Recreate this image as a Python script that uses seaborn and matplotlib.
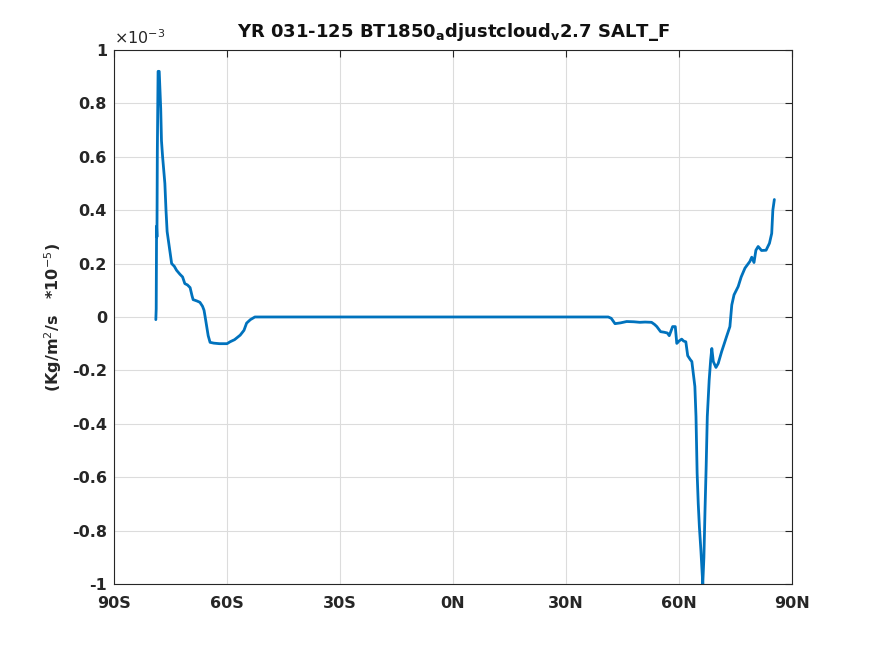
import numpy as np
import pandas as pd
import matplotlib
matplotlib.use("Agg")
import matplotlib.pyplot as plt
import seaborn as sns

# === Data (values in units of 1e-3) ===
lat = [-78.9, -78.8, -78.7, -78.6, -78.5, -78.3, -78.0, -77.8, -77.6, -77.4, -77.1,
       -76.8, -76.5, -76.2, -75.9, -75.5, -74.7, -74.0, -73.4, -72.5, -71.8, -71.2,
       -70.5, -69.8, -69.3, -69.0, -68.0, -67.2, -66.5, -66.1, -65.8, -65.4, -65.0,
       -64.5, -63.5, -62.0, -61.0, -60.0, -59.2, -58.0, -56.5, -55.5, -54.8, -53.8,
       -52.6, 41.2, 42.0, 43.0, 44.5, 46.1, 48.0, 49.6, 51.0, 52.7, 53.5, 54.1, 55.1,
       56.0, 56.9, 57.4, 57.8, 58.3, 59.0, 59.4, 60.0, 60.7, 61.2, 61.8, 62.3, 63.0,
       63.4, 64.2, 64.5, 64.8, 65.1, 65.4, 65.8, 66.1, 66.3, 66.6, 66.9, 67.2, 67.5,
       68.0, 68.4, 68.7, 69.1, 69.8, 70.4, 71.3, 72.0, 72.6, 73.5, 74.0, 74.6, 75.7,
       76.5, 77.5, 78.8, 79.3, 79.9, 80.4, 81.0, 81.9, 83.1, 84.0, 84.6, 84.9, 85.3]
val = [-0.01, 0.03, 0.34, 0.30, 0.62, 0.92, 0.92, 0.85, 0.78, 0.66, 0.60,
       0.55, 0.50, 0.40, 0.32, 0.28, 0.20, 0.19, 0.175, 0.16, 0.15, 0.125,
       0.12, 0.11, 0.08, 0.065, 0.06, 0.055, 0.04, 0.025, 0.0, -0.035, -0.07,
       -0.095, -0.098, -0.10, -0.10, -0.10, -0.093, -0.085, -0.068, -0.05, -0.023, -0.01,
       0.0, 0.0, -0.005, -0.025, -0.022, -0.017, -0.018, -0.02, -0.019, -0.02, -0.028, -0.036, -0.055,
       -0.057, -0.06, -0.07, -0.055, -0.036, -0.036, -0.099, -0.09, -0.083, -0.09, -0.093, -0.145, -0.16,
       -0.167, -0.26, -0.373, -0.585, -0.70, -0.786, -0.873, -0.95, -1.0, -0.90, -0.72, -0.56, -0.373,
       -0.236, -0.16, -0.118, -0.167, -0.189, -0.174, -0.13, -0.10, -0.074, -0.036, 0.045, 0.083, 0.114,
       0.15, 0.183, 0.208, 0.224, 0.204, 0.25, 0.264, 0.249, 0.25, 0.276, 0.313, 0.40, 0.44]

xtick_vals = [-90, -60, -30, 0, 30, 60, 90]
xtick_labels = ["90S", "60S", "30S", "0N", "30N", "60N", "90N"]
ytick_vals = [1, 0.8, 0.6, 0.4, 0.2, 0, -0.2, -0.4, -0.6, -0.8, -1]
ytick_labels = ["1", "0.8", "0.6", "0.4", "0.2", "0", "-0.2", "-0.4", "-0.6", "-0.8", "-1"]

df = pd.DataFrame({"lat": lat, "val": val})

sns.set_style("white")
plt.rcParams["font.family"] = ["DejaVu Sans"]

fig = plt.figure(figsize=(8.75, 6.56), dpi=100)
ax = fig.add_axes([0.1303, 0.1098, 0.7749, 0.814])

sns.lineplot(data=df, x="lat", y="val", ax=ax, color="#0072BD", linewidth=2, sort=False)

ax.set_xlim(-90, 90)
ax.set_ylim(-1, 1)
ax.set_xticks(xtick_vals)
ax.set_xticklabels(xtick_labels, fontsize=11.5, fontweight="bold", color="#262626")
ax.set_yticks(ytick_vals)
ax.set_yticklabels(ytick_labels, fontsize=11.5, fontweight="bold", color="#262626")
ax.tick_params(direction="in", length=5, width=0.8, top=True, right=True, colors="#262626",
               labelcolor="#262626")
ax.tick_params(axis="x", pad=9)
ax.tick_params(axis="y", pad=5)
ax.grid(True, color="#dcdcdc", linewidth=0.8)
for sp in ax.spines.values():
    sp.set_color("#262626")
    sp.set_linewidth(0.8)

ax.set_xlabel("")
ax.set_ylabel(r"(Kg/m$^2$/s   *10$^{-5}$)", fontsize=11.5, fontweight="bold", color="#262626",
              labelpad=6)
ax.set_title(r"YR 031-125 BT1850$_{\mathbf{a}}$djustcloud$_{\mathbf{v}}$2.7 SALT_F",
             fontsize=13, fontweight="bold", color="#111111", pad=9)
ax.text(0.0, 1.005, r"$\times$10$^{-3}$", transform=ax.transAxes, fontsize=11.5,
        color="#262626", ha="left", va="bottom")

plt.savefig("out.png", dpi=100)
plt.close()
